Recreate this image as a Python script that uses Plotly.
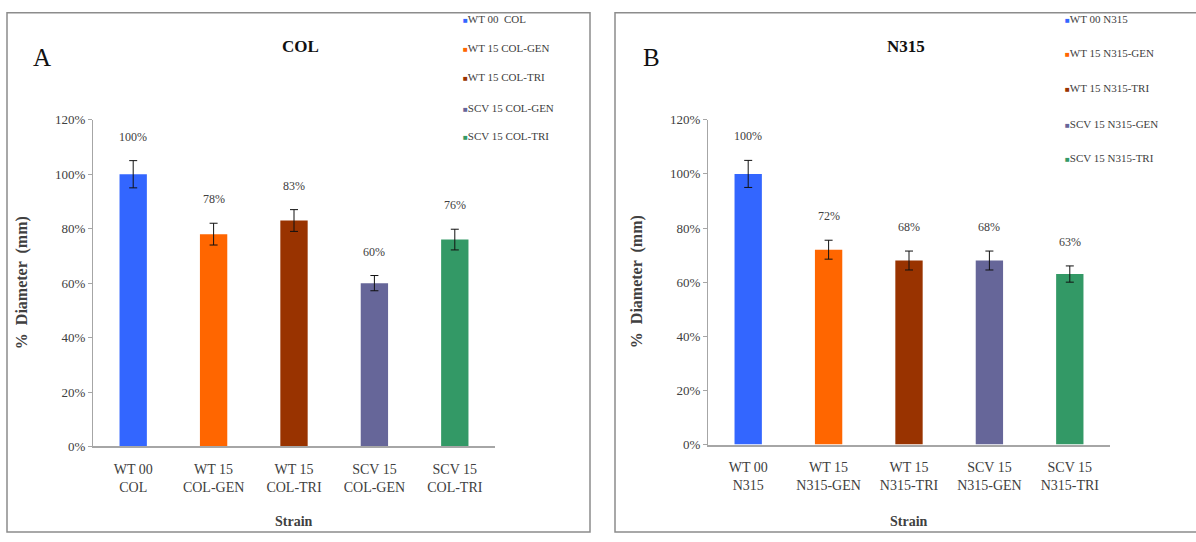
import plotly.graph_objects as go

# Bar data: % diameter relative to the wild type, with error margins
col_strains = ["WT 00<br>COL", "WT 15<br>COL-GEN", "WT 15<br>COL-TRI", "SCV 15<br>COL-GEN", "SCV 15<br>COL-TRI"]
col_legend = ["WT 00  COL", "WT 15 COL-GEN", "WT 15 COL-TRI", "SCV 15 COL-GEN", "SCV 15 COL-TRI"]
col_values = [100, 78, 83, 60, 76]
col_errors = [5, 4, 4, 2.8, 3.8]

n315_strains = ["WT 00<br>N315", "WT 15<br>N315-GEN", "WT 15<br>N315-TRI", "SCV 15<br>N315-GEN", "SCV 15<br>N315-TRI"]
n315_legend = ["WT 00 N315", "WT 15 N315-GEN", "WT 15 N315-TRI", "SCV 15 N315-GEN", "SCV 15 N315-TRI"]
n315_values = [100, 72, 68, 68, 63]
n315_errors = [5, 3.5, 3.5, 3.5, 3]

y_ticks = [0, 20, 40, 60, 80, 100, 120]

colors = ["#3366FF", "#FF6600", "#993300", "#666699", "#339966"]

W, H = 1196, 542
SERIF = "Liberation Serif, Times New Roman, serif"
TXT = "#404040"


def px_x(x):
    return x / W


def px_y(y):
    return 1 - y / H


fig = go.Figure()

panels = [
    dict(cats=col_strains, legend=col_legend, vals=col_values, errs=col_errors,
         xa="x", ya="y", xdom=(93, 495), ydom=(452, 116),
         title="COL", letter="A", letter_x=42, title_x=300,
         leg_x=461, leg_rows=[12, 42, 72, 104, 133], ytitle_x=22),
    dict(cats=n315_strains, legend=n315_legend, vals=n315_values, errs=n315_errors,
         xa="x2", ya="y2", xdom=(708, 1110), ydom=(450, 116),
         title="N315", letter="B", letter_x=651, title_x=906,
         leg_x=1063, leg_rows=[12, 47, 83, 120, 155], ytitle_x=637),
]

annotations = []
shapes = []

for i, p in enumerate(panels):
    for cat, val, err, colr in zip(p["cats"], p["vals"], p["errs"], colors):
        fig.add_trace(go.Bar(
            x=[cat], y=[val], marker=dict(color=colr, line=dict(width=0)),
            error_y=dict(type="data", array=[err], visible=True,
                         color="#111111", thickness=1, width=4),
            xaxis=p["xa"], yaxis=p["ya"], showlegend=False,
        ))
        annotations.append(dict(
            x=cat, y=val + err, xref=p["xa"], yref=p["ya"],
            text=f"{val}%", showarrow=False, yshift=24, yanchor="middle",
            font=dict(family=SERIF, size=12, color=TXT),
        ))

    # panel title, panel letter, axis titles
    mid_y = (p["ydom"][0] + p["ydom"][1]) / 2
    annotations += [
        dict(x=px_x(p["title_x"]), y=px_y(41), xref="paper", yref="paper",
             text="<b>" + p["title"] + "</b>", showarrow=False,
             font=dict(family=SERIF, size=17, color="#111"), xanchor="center", yanchor="middle"),
        dict(x=px_x(p["letter_x"]), y=px_y(52), xref="paper", yref="paper",
             text=p["letter"], showarrow=False,
             font=dict(family=SERIF, size=25, color="#111"), xanchor="center", yanchor="middle"),
        dict(x=px_x(p["ytitle_x"]), y=px_y(mid_y), xref="paper", yref="paper",
             text="<b>%  Diameter  (mm)</b>", showarrow=False, textangle=-90,
             font=dict(family=SERIF, size=16, color=TXT), xanchor="center", yanchor="middle"),
        dict(x=px_x((p["xdom"][0] + p["xdom"][1]) / 2), y=px_y(529), xref="paper", yref="paper",
             text="<b>Strain</b>", showarrow=False,
             font=dict(family=SERIF, size=14, color=TXT), xanchor="center", yanchor="middle"),
    ]

    # legend block
    for name, colr, ry in zip(p["legend"], colors, p["leg_rows"]):
        annotations.append(dict(
            x=px_x(p["leg_x"]), y=px_y(ry), xref="paper", yref="paper",
            text=f'<span style="color:{colr};font-size:8px">■</span>{name}',
            showarrow=False, xanchor="left", yanchor="middle",
            font=dict(family=SERIF, size=11, color=TXT),
        ))

    axis_x = dict(
        domain=[px_x(p["xdom"][0]), px_x(p["xdom"][1])],
        type="category", categoryorder="array", categoryarray=p["cats"],
        showline=True, linecolor="#a6a6a6", linewidth=1.5,
        ticks="outside", ticklen=9, tickcolor="rgba(0,0,0,0)",
        tickfont=dict(family=SERIF, size=14, color=TXT),
        showgrid=False, zeroline=False, fixedrange=True,
        anchor=p["ya"],
    )
    axis_y = dict(
        domain=[px_y(p["ydom"][0]), px_y(p["ydom"][1])],
        range=[0, 120], tickvals=y_ticks, ticktext=[f"{t}%" for t in y_ticks],
        showline=True, linecolor="#a6a6a6", linewidth=1,
        ticks="outside", ticklen=4, tickcolor="#a6a6a6",
        tickfont=dict(family=SERIF, size=13, color=TXT),
        showgrid=False, zeroline=False, fixedrange=True,
        anchor=p["xa"],
    )
    suffix = "" if i == 0 else "2"
    fig.update_layout(**{"xaxis" + suffix: axis_x, "yaxis" + suffix: axis_y})

# panel frames
shapes.append(dict(type="rect", xref="paper", yref="paper",
                   x0=px_x(7), x1=px_x(590), y0=px_y(540), y1=px_y(6),
                   line=dict(color="#8c8c8c", width=1.5)))
shapes.append(dict(type="rect", xref="paper", yref="paper",
                   x0=px_x(615), x1=px_x(1200), y0=px_y(540), y1=px_y(6),
                   line=dict(color="#8c8c8c", width=1.5)))

fig.update_layout(
    width=W, height=H,
    margin=dict(l=0, r=0, t=0, b=0),
    paper_bgcolor="white", plot_bgcolor="white",
    barmode="overlay", bargap=0.66,
    showlegend=False,
    annotations=annotations, shapes=shapes,
)

fig.write_html("out.html")
